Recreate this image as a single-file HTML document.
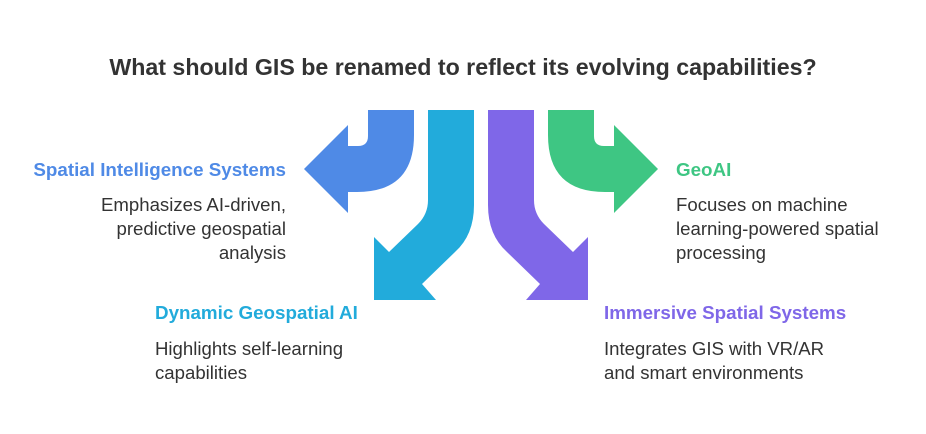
<!DOCTYPE html>
<html><head><meta charset="utf-8"><style>
body{margin:0;width:926px;height:434px;background:#fff;font-family:"Liberation Sans",sans-serif;position:relative;overflow:hidden}
.t{position:absolute;white-space:nowrap}
.h{font-weight:bold;font-size:18.8px}
.d{font-size:18.6px;color:#333;line-height:24px}
</style></head><body>
<div class="t" style="left:0;width:926px;text-align:center;top:54px;font-size:23.2px;font-weight:bold;color:#333">What should GIS be renamed to reflect its evolving capabilities?</div>
<svg width="926" height="434" style="position:absolute;left:0;top:0">
<path fill="#4f8ae6" d="M368,110 L414,110 L414,135 Q414,192 357,192 L348,192 L348,213 L304,169 L348,125 L348,146 L358,146 Q368,146 368,136 Z"/>
<path fill="#3ec683" d="M594,110 L548,110 L548,135 Q548,192 605,192 L614,192 L614,213 L658,169 L614,125 L614,146 L604,146 Q594,146 594,136 Z"/>
<path fill="#22abdb" d="M428,110 L474,110 L474,205 Q474,235 455,252 L422,284 L436,300 L374,300 L374,237 L389,252 L418,224 Q428,214 428,200 Z"/>
<path fill="#7f67e8" d="M534,110 L488,110 L488,205 Q488,235 507,252 L540,284 L526,300 L588,300 L588,237 L573,252 L544,224 Q534,214 534,200 Z"/>
</svg>
<div class="t h" style="right:640px;top:159px;color:#4f8ae6">Spatial Intelligence Systems</div>
<div class="t d" style="right:640px;top:193px;text-align:right">Emphasizes AI-driven,<br>predictive geospatial<br>analysis</div>
<div class="t h" style="left:676px;top:159px;color:#3ec683">GeoAI</div>
<div class="t d" style="left:676px;top:193px">Focuses on machine<br>learning-powered spatial<br>processing</div>
<div class="t h" style="left:155px;top:302px;color:#22abdb">Dynamic Geospatial AI</div>
<div class="t d" style="left:155px;top:337px">Highlights self-learning<br>capabilities</div>
<div class="t h" style="left:604px;top:302px;color:#7f67e8">Immersive Spatial Systems</div>
<div class="t d" style="left:604px;top:337px">Integrates GIS with VR/AR<br>and smart environments</div>
</body></html>
